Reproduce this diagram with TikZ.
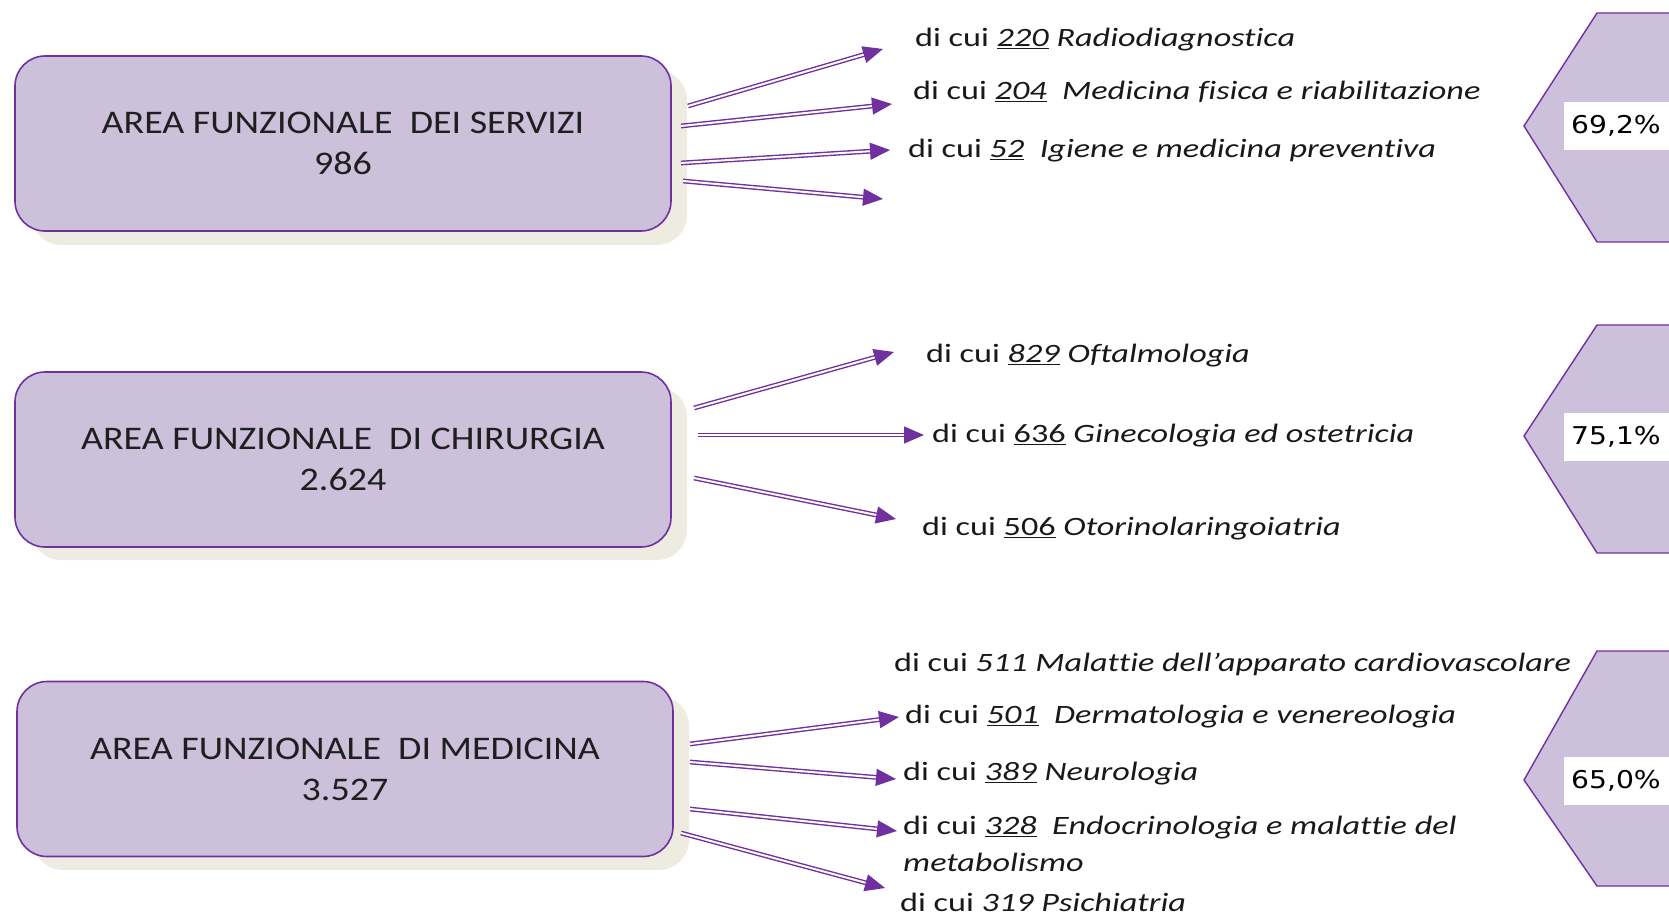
\documentclass[tikz,border=0pt]{standalone}
\usepackage{fontspec}
\setmainfont{Carlito}[Ligatures=NoCommon]
\newfontfamily\boxfont{Carlito}[FakeStretch=1.15, Ligatures=NoCommon]
\newfontfamily\lblfont{Carlito}[FakeStretch=1.29, Ligatures=NoCommon]
\newfontfamily\pctfont{DejaVu Sans}[FakeStretch=1.15]
\usetikzlibrary{arrows.meta}
\definecolor{boxfill}{HTML}{CCC0DA}
\definecolor{purp}{HTML}{7030A0}
\definecolor{shadowc}{HTML}{EEECE1}
\begin{document}
\begin{tikzpicture}[x=1pt,y=-1pt,
  areabox/.style={draw=purp, line width=1.6pt, fill=boxfill, rounded corners=30pt, minimum width=656pt, minimum height=175pt, align=center, font=\boxfont\fontsize{33}{41}\selectfont, text=black!88},
  shadowbox/.style={fill=shadowc, rounded corners=30pt},
  conn/.style={draw=purp, double=white, line width=1.4pt, double distance=2pt, -{Triangle[length=20pt,width=17pt]}},
  lbl/.style={anchor=west, font=\lblfont\fontsize{26.5}{37}\selectfont, inner sep=0pt, align=left, text=black!90},
  hexa/.style={draw=purp, line width=1.4pt, fill=boxfill},
  pct/.style={anchor=west, fill=white, minimum height=48pt, inner xsep=7pt, text width=115pt, align=left, font=\pctfont\fontsize{24.5}{28}\selectfont}
]
\useasboundingbox (0,0) rectangle (1669,917);
\clip (0,0) rectangle (1669,917);

% shadows
\fill[shadowbox] (31,70) rectangle (687,245);
\fill[shadowbox] (31,387) rectangle (687,560);
\fill[shadowbox] (33,696) rectangle (689,870);

% area boxes
\node[areabox] (servizi) at (343,143.5) {AREA FUNZIONALE \ DEI SERVIZI\\986};
\node[areabox] (chirurgia) at (343,459.5) {AREA FUNZIONALE \ DI CHIRURGIA\\2.624};
\node[areabox] (medicina) at (345,769) {AREA FUNZIONALE \ DI MEDICINA\\3.527};

% hexagons
\draw[hexa] (1524,126) -- (1597,13) -- (1720,13) -- (1720,242) -- (1597,242) -- cycle;
\draw[hexa] (1524,436) -- (1597,325) -- (1720,325) -- (1720,553) -- (1597,553) -- cycle;
\draw[hexa] (1524,780) -- (1597,651) -- (1720,651) -- (1720,886) -- (1597,886) -- cycle;
\node[pct] (p1) at (1564,126) {69,2\%};
\node[pct] (p2) at (1564,437) {75,1\%};
\node[pct] (p3) at (1564,781) {65,0\%};

% labels
\node[lbl] (l11) at (915,40) {di cui \underline{\textit{220}} \textit{Radiodiagnostica}};
\node[lbl] (l12) at (913,92) {di cui \underline{\textit{204}} \ \textit{Medicina fisica e riabilitazione}};
\node[lbl] (l13) at (908,151) {di cui \underline{\textit{52}} \ \textit{Igiene e medicina preventiva}};

\node[lbl] (l21) at (926,356) {di cui \underline{\textit{829}} \textit{Oftalmologia}};
\node[lbl] (l22) at (932,436) {di cui \underline{636} \textit{Ginecologia ed ostetricia}};
\node[lbl] (l23) at (922,529) {di cui \underline{506} \textit{Otorinolaringoiatria}};

\node[lbl] (l31) at (894,664) {di cui \textit{511 Malattie dell’apparato cardiovascolare}};
\node[lbl] (l32) at (905,717) {di cui \underline{\textit{501}} \ \textit{Dermatologia e venereologia}};
\node[lbl] (l33) at (903,774) {di cui \underline{\textit{389}} \textit{Neurologia}};
\node[lbl] (l34) at (903,844) {di cui \underline{\textit{328}} \ \textit{Endocrinologia e malattie del}\\\textit{metabolismo}};
\node[lbl] (l35) at (900,902) {di cui \textit{319 Psichiatria}};

% connector end points
\coordinate (s11) at (688,106); \coordinate (e11) at (883,49);
\coordinate (s12) at (681,126); \coordinate (e12) at (892,104);
\coordinate (s13) at (681,163); \coordinate (e13) at (890,150);
\coordinate (s14) at (683,181); \coordinate (e14) at (883,199);

\coordinate (s21) at (694,408); \coordinate (e21) at (894,352);
\coordinate (s22) at (698,435); \coordinate (e22) at (924,435);
\coordinate (s23) at (694,478); \coordinate (e23) at (896,519);

\coordinate (s31) at (690,744); \coordinate (e31) at (899,717);
\coordinate (s32) at (690,762); \coordinate (e32) at (896,779);
\coordinate (s33) at (690,809); \coordinate (e33) at (897,831);
\coordinate (s34) at (681,833); \coordinate (e34) at (885,888);

\foreach \a in {11,12,13,14,21,22,23,31,32,33,34}
  \draw[conn] (s\a) -- (e\a);
\end{tikzpicture}
\end{document}
